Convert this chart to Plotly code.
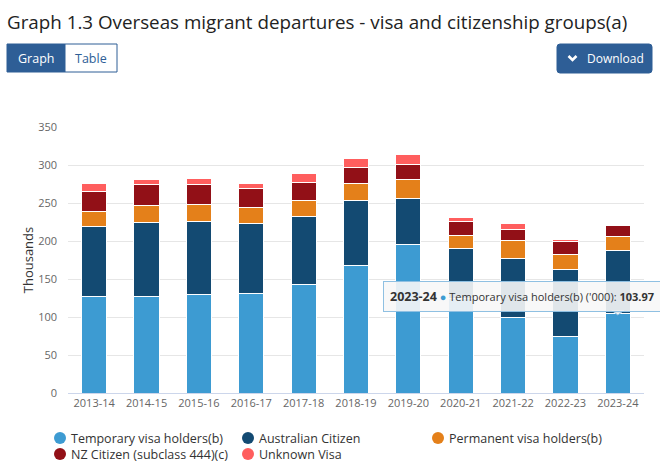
import plotly.graph_objects as go

categories = ["2013-14", "2014-15", "2015-16", "2016-17", "2017-18", "2018-19",
              "2019-20", "2020-21", "2021-22", "2022-23", "2023-24"]
temporary = [127.6, 127.6, 129.4, 131.1, 143.4, 168.4, 195.6, 125.0, 99.1, 74.1, 103.97]
australian = [91.2, 97.0, 96.5, 91.7, 89.5, 85.1, 60.5, 64.5, 77.7, 88.6, 83.3]
permanent = [20.2, 22.4, 21.5, 21.5, 21.0, 22.8, 24.2, 18.0, 23.6, 20.2, 19.3]
nz_citizen = [25.5, 26.7, 27.2, 25.0, 22.9, 20.6, 21.0, 18.8, 14.9, 16.7, 14.0]
unknown = [11.8, 7.0, 7.8, 7.0, 11.8, 11.4, 11.9, 4.0, 7.1, 3.0, 0.0]

series_names = ["Temporary visa holders(b)", "Australian Citizen", "Permanent visa holders(b)",
                "NZ Citizen (subclass 444)(c)", "Unknown Visa"]
series_values = [temporary, australian, permanent, nz_citizen, unknown]
series_colors = ["#3d9bd2", "#134a72", "#e4801a", "#921017", "#ff5e5e"]

y_ticks = [0, 50, 100, 150, 200, 250, 300, 350]

W, H = 660, 472
ML, MR, MT, MB = 68, 16, 127, 79
PW, PH = W - ML - MR, H - MT - MB

def px(x):
    return (x - ML) / PW

def py(y):
    return (H - MB - y) / PH

FONT = "Open Sans"
fig = go.Figure()

for name, vals, col in zip(series_names, series_values, series_colors):
    fig.add_trace(go.Bar(
        x=categories, y=vals, name=name, marker=dict(color=col, line=dict(color="white", width=1)),
        showlegend=False,
        hovertemplate="%{x} " + name + " ('000): %{y}<extra></extra>"))

shapes = []
annotations = []

# Legend (two rows, aligned columns)
legend_cols = [60, 248, 438]
legend_rows = [438, 454]
for i, (name, col) in enumerate(zip(series_names, series_colors)):
    cx = legend_cols[i % 3]
    cy = legend_rows[i // 3]
    shapes.append(dict(type="circle", xref="paper", yref="paper", xsizemode="pixel", ysizemode="pixel",
                       xanchor=px(cx), yanchor=py(cy), x0=-6, x1=6, y0=-6, y1=6,
                       fillcolor=col, line=dict(width=0), layer="above"))
    annotations.append(dict(xref="paper", yref="paper", x=px(cx + 9), y=py(cy), text=name, showarrow=False,
                            xanchor="left", yanchor="middle",
                            font=dict(family=FONT, size=12.5, color="#333333")))

BLUE = "#2e5e96"
# Graph / Table buttons
shapes.append(dict(type="rect", xref="paper", yref="paper", x0=px(7), x1=px(65), y0=py(72), y1=py(44),
                   fillcolor=BLUE, line=dict(color=BLUE, width=1), layer="above"))
shapes.append(dict(type="rect", xref="paper", yref="paper", x0=px(65), x1=px(117), y0=py(72), y1=py(44),
                   fillcolor="white", line=dict(color=BLUE, width=1), layer="above"))
annotations.append(dict(xref="paper", yref="paper", x=px(36), y=py(58), text="Graph", showarrow=False,
                        font=dict(family=FONT, size=12.5, color="white"), xanchor="center", yanchor="middle"))
annotations.append(dict(xref="paper", yref="paper", x=px(91), y=py(58), text="Table", showarrow=False,
                        font=dict(family=FONT, size=12.5, color=BLUE), xanchor="center", yanchor="middle"))
# Download button (rounded)
x0, x1, y0, y1, r = px(557), px(652), py(73), py(44), 3
rx, ry = r / PW, r / PH
path = (f"M {x0+rx} {y0} L {x1-rx} {y0} Q {x1} {y0} {x1} {y0+ry} L {x1} {y1-ry} Q {x1} {y1} {x1-rx} {y1} "
        f"L {x0+rx} {y1} Q {x0} {y1} {x0} {y1-ry} L {x0} {y0+ry} Q {x0} {y0} {x0+rx} {y0} Z")
shapes.append(dict(type="path", xref="paper", yref="paper", path=path, fillcolor=BLUE,
                   line=dict(color=BLUE, width=1), layer="above"))
shapes.append(dict(type="path", xref="paper", yref="paper",
                   path=f"M {px(568.5)} {py(56)} L {px(572.5)} {py(60)} L {px(576.5)} {py(56)}",
                   line=dict(color="white", width=2.6), layer="above"))
annotations.append(dict(xref="paper", yref="paper", x=px(585), y=py(58), text="Download", showarrow=False,
                        font=dict(family=FONT, size=12, color="white"), xanchor="left", yanchor="middle"))

# Tooltip pointer + box
TIP_BG = "rgba(247,247,247,0.9)"
TIP_BORDER = "#8fc0e2"
shapes.append(dict(type="path", xref="x", yref="y", xsizemode="pixel", ysizemode="pixel",
                   xanchor=categories[-1], yanchor=temporary[-1],
                   path="M -6 3.5 L 0 -1 L 6 3.5", fillcolor=TIP_BG,
                   line=dict(color=TIP_BORDER, width=1), layer="above"))
annotations.append(dict(
    x=categories[-1], y=temporary[-1], xref="x", yref="y", showarrow=False, xshift=-96, yshift=17,
    text=("<span style='font-size:12.5px'><b>2023-24</b></span> <span style='color:#3d9bd2'>●</span> "
          "Temporary visa holders(b) ('000): <b>103.97</b>"),
    font=dict(family=FONT, size=11, color="#333333"),
    bgcolor=TIP_BG, bordercolor=TIP_BORDER, borderwidth=1, borderpad=6))

fig.update_layout(
    width=W, height=H, margin=dict(l=ML, r=MR, t=MT, b=MB, pad=0, autoexpand=False),
    paper_bgcolor="white", plot_bgcolor="white",
    barmode="stack", bargap=0.52, showlegend=False,
    font=dict(family=FONT, color="#333333"),
    title=dict(text="Graph 1.3 Overseas migrant departures - visa and citizenship groups(a)",
               x=7 / W, xanchor="left", xref="container", y=1 - 22 / H, yanchor="middle", yref="container",
               font=dict(family=FONT, size=18.8, color="#222222")),
    xaxis=dict(showline=True, linecolor="#ccd6eb", linewidth=1, ticks="", showgrid=False, automargin=False,
               range=[-0.5, len(categories) - 0.5], fixedrange=True,
               tickfont=dict(family=FONT, size=11, color="#666666")),
    yaxis=dict(range=[0, 350], tickvals=y_ticks, showgrid=True, gridcolor="#e6e6e6", gridwidth=1,
               zeroline=False, ticks="", ticklabelstandoff=10, automargin=False, fixedrange=True,
               tickfont=dict(family=FONT, size=11, color="#666666"),
               title=dict(text="Thousands", standoff=1, font=dict(family=FONT, size=13, color="#333333"))),
    shapes=shapes, annotations=annotations,
    hoverlabel=dict(font=dict(family=FONT)),
)

fig.write_html("out.html")
